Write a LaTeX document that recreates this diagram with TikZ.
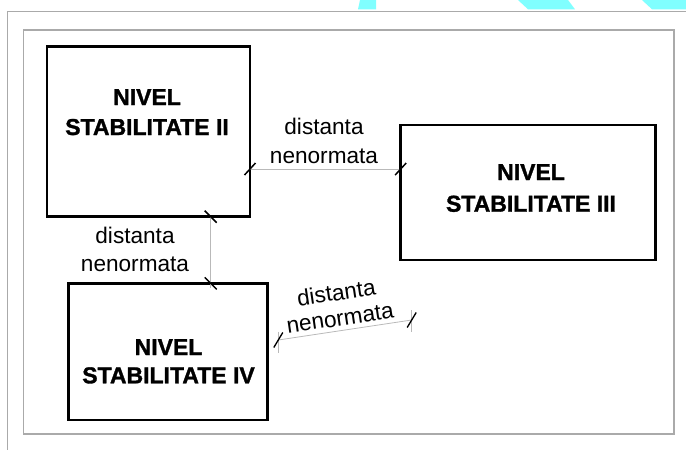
\documentclass[tikz,border=0pt]{standalone}
\usepackage{fontspec}
\setmainfont{Liberation Sans}
\newfontfamily\heavyfont[FakeBold=1.4]{Liberation Sans Bold}
\usetikzlibrary{calc}
\definecolor{wmcyan}{RGB}{128,255,255}
\definecolor{framegray}{RGB}{170,170,170}
\definecolor{linkgray}{RGB}{185,185,185}
\tikzset{
  box/.style={draw=black, line width=2.6pt, rectangle, inner sep=0pt, outer sep=0pt},
  boxtext/.style={anchor=base, inner sep=0pt, font=\heavyfont\fontsize{23}{23}\selectfont},
  dimtext/.style={anchor=base, inner sep=0pt, font=\fontsize{22.6}{22.6}\selectfont},
  link/.style={draw=linkgray, line width=1pt},
  tickmark/.style={draw=black, line width=1.5pt},
  frame/.style={draw=framegray, line width=1.4pt}
}
\begin{document}
\begin{tikzpicture}[x=1pt, y=-1pt]
\useasboundingbox (0,0) rectangle (686,450);
% watermark fragments
\fill[wmcyan] (360,0) -- (376,0) -- (376,9.3) -- (358,9.3) -- cycle;
\fill[wmcyan] (518,0) -- (568,0) -- (575,9.3) -- (528,9.3) -- cycle;
\fill[wmcyan] (642,0) -- (686,0) -- (686,9.3) -- (652,9.3) -- cycle;
% frames
\draw[frame] (686,11.7) -- (7.3,11.7) -- (7.3,450);
\draw[frame, line width=1.2pt] (23.3,30) rectangle (674,434);
% boxes
\node[box, minimum width=203pt, minimum height=170.5pt] (II) at (148.5,131.5) {};
\node[box, minimum width=255pt, minimum height=135pt] (III) at (528.2,192.5) {};
\node[box, minimum width=199pt, minimum height=136.7pt] (IV) at (167.8,351.7) {};
% box texts
\node[boxtext] (IIa) at (147,105) {NIVEL};
\node[boxtext] (IIb) at (147,135) {STABILITATE II};
\node[boxtext] (IIIa) at (531,180) {NIVEL};
\node[boxtext] (IIIb) at (531,211.7) {STABILITATE III};
\node[boxtext] (IVa) at (168.5,355) {NIVEL};
\node[boxtext] (IVb) at (168.5,383.3) {STABILITATE IV};
% horizontal dimension II - III
\coordinate (hA) at (II.east |- 0,169);
\coordinate (hB) at (III.west |- 0,169);
\draw[link] (hA) -- (hB);
\draw[tickmark] ($(hA)+(-5.5,6)$) -- ($(hA)+(5.5,-6)$);
\draw[tickmark] ($(hB)+(-5.5,6)$) -- ($(hB)+(5.5,-6)$);
\node[dimtext] (t1a) at (324,134) {distanta};
\node[dimtext] (t1b) at (324,163) {nenormata};
% vertical dimension II - IV
\coordinate (vA) at (II.south -| 210.7,0);
\coordinate (vB) at (IV.north -| 210.7,0);
\draw[link] (vA) -- ($(vB)+(0,5)$);
\draw[tickmark] ($(vA)+(-6,-6)$) -- ($(vA)+(6,6)$);
\draw[tickmark] ($(vB)+(-6,-6)$) -- ($(vB)+(6,6)$);
\node[dimtext] (t2a) at (135,243) {distanta};
\node[dimtext] (t2b) at (135,271.7) {nenormata};
% slanted free dimension
\coordinate (d1) at (278.3,340);
\coordinate (d2) at (411.7,320);
\draw[link, line width=0.8pt] (d1) -- (d2);
\draw[link, line width=0.7pt] ($(d1)+(0,-8.3)$) -- ($(d1)+(0,13)$);
\draw[link, line width=0.7pt] ($(d2)+(0,-10)$) -- ($(d2)+(0,11.7)$);
\draw[tickmark, line width=1.3pt] ($(d1)+(-4.5,7.5)$) -- ($(d1)+(4.5,-7.5)$);
\draw[tickmark, line width=1.3pt] ($(d2)+(-4.5,7.5)$) -- ($(d2)+(4.5,-7.5)$);
\node[inner sep=0pt, align=center, rotate=8.5, font=\fontsize{22.6}{25.5}\selectfont] (t3) at (338.1,305) {distanta\\nenormata};
\end{tikzpicture}
\end{document}
